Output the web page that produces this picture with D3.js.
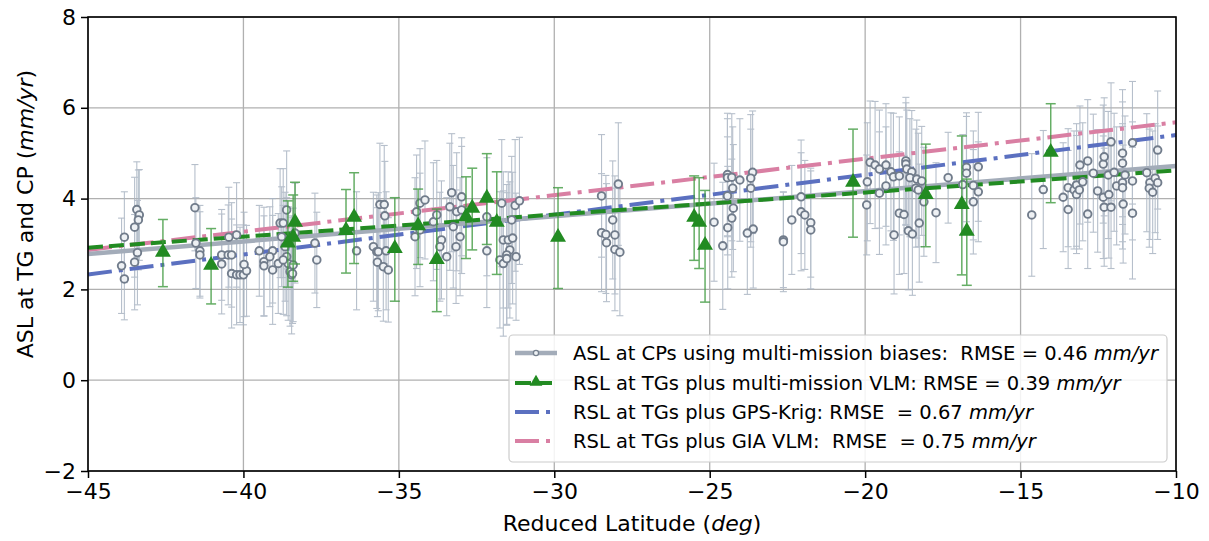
<!DOCTYPE html>
<html>
<head>
<meta charset="utf-8">
<script src="https://cdn.jsdelivr.net/npm/d3@7"></script>
<style>
  body { margin: 0; background: #fff; }
  text { font-family: "DejaVu Sans", sans-serif; fill: #000; white-space: pre; }
</style>
</head>
<body>
<svg width="1209" height="541"></svg>
<script>
// ASL at coastal points (grey circles)
const cpLat = [-43.92,-43.83,-43.83,-43.43,-43.35,-43.38,-43.50,-43.41,-43.50,-41.56,-41.53,-41.40,-41.40,-40.70,-40.70,-40.49,-40.38,-40.47,-40.22,-40.38,-40.22,-40.11,-40.00,-39.90,-39.98,-39.49,-39.34,-39.34,-39.06,-39.15,-39.06,-38.88,-38.82,
  -38.61,-38.72,-38.77,-38.66,-38.61,-38.56,-38.50,-38.45,-38.40,-38.34,-38.72,-38.42,-37.70,-37.64,-36.36,-35.61,-35.47,-35.45,-35.82,-35.71,-35.66,-35.69,-35.50,-35.34,-35.41,-34.48,-34.43,-34.32,-34.16,-34.32,-33.89,-33.78,-33.63,-33.68,-33.46,-33.36,-33.30,-33.25,-33.14,-33.16,
  -32.98,-32.98,-33.03,-32.17,-32.17,-31.69,-31.26,-31.12,-31.37,-31.64,-31.48,-31.34,-31.43,-31.53,-31.75,-31.64,-31.53,-31.23,-28.48,-27.94,-28.12,-28.48,-28.34,-28.32,-28.05,-28.05,-27.89,
  -24.86,-24.58,-24.43,-24.43,-24.29,-24.43,-24.26,-24.24,-24.29,-24.42,-24.03,-23.62,-23.68,-23.68,-23.60,-23.79,-22.63,-22.63,-22.36,-22.06,-22.06,-21.94,-21.75,-21.75,
  -19.95,-19.93,-19.84,-19.68,-19.54,-19.54,-19.33,-19.33,-19.17,-19.09,-19.07,-18.90,-18.90,-18.75,-18.69,-18.69,-18.66,-18.50,-18.56,-18.34,-18.18,-18.37,-18.29,-18.61,-18.48,-18.26,-18.11,-17.72,-17.33,-16.86,-16.74,-16.74,-16.52,-16.36,-16.36,-16.52,
  -14.64,-14.27,-13.63,-13.47,-13.47,-13.28,-13.20,-13.20,-13.11,-13.09,-13.00,-12.84,-12.84,-12.66,-12.52,-12.34,-12.34,-12.31,-12.31,-12.18,-12.16,-12.09,-12.09,-11.99,-11.91,-11.72,-11.72,-11.72,-11.72,-11.70,-11.64,-11.40,-11.40,-11.40,-10.94,-10.84,-10.86,-10.75,-10.67,-10.59,-10.59];
const cpAsl = [2.52,3.15,2.23,3.76,3.64,3.53,3.37,2.81,2.60,3.80,3.02,2.85,2.76,2.56,2.76,2.76,2.76,3.15,3.20,2.35,2.32,2.32,2.32,2.41,2.55,2.85,2.61,2.52,2.85,2.72,2.43,2.57,3.46,
  3.75,3.46,3.16,2.94,2.72,2.57,2.39,2.32,2.54,3.24,2.65,2.35,3.02,2.65,2.85,3.87,3.87,3.62,2.94,2.83,2.83,2.60,2.50,2.43,2.85,3.16,3.71,3.90,3.97,3.31,3.49,3.64,3.09,2.94,2.72,3.82,4.13,3.38,3.71,2.94,
  4.04,3.75,3.16,3.60,2.85,3.90,3.85,3.95,3.53,3.09,3.09,3.13,2.87,2.76,2.65,2.57,2.68,2.72,4.06,4.32,3.53,3.25,3.21,3.03,3.20,2.88,2.82,
  3.48,2.96,4.53,4.46,4.47,4.06,4.23,3.79,3.57,3.36,4.41,4.58,4.45,4.23,3.33,3.24,3.09,3.05,3.53,4.04,3.71,3.64,3.47,3.31,
  3.86,4.37,4.80,4.74,4.65,4.12,4.74,4.28,4.59,4.48,3.20,4.50,3.68,3.65,4.83,4.76,4.65,4.59,4.46,4.43,4.39,4.23,4.19,3.29,3.22,3.46,3.93,3.69,4.46,4.31,4.69,4.56,4.29,4.70,4.15,3.93,
  3.64,4.20,4.03,4.24,3.76,4.19,4.30,4.09,4.19,4.74,4.37,4.83,3.66,4.56,4.17,4.03,4.76,4.92,3.81,4.52,4.09,5.25,3.81,4.58,4.28,5.00,4.78,4.35,4.24,3.88,4.52,5.23,4.39,3.68,4.57,4.35,4.23,4.14,4.45,5.07,4.35];
const cpErr = [1.05,1.00,0.90,1.05,1.00,1.10,1.10,1.15,1.05,0.95,1.00,1.00,0.95,1.10,1.00,1.10,1.15,1.10,1.15,1.20,1.10,1.05,1.10,1.00,1.15,1.00,1.20,1.10,1.15,1.10,1.20,1.10,1.20,
  1.30,1.20,1.10,1.20,1.30,1.25,1.20,1.30,1.25,1.10,1.20,1.10,1.10,1.05,1.30,1.35,1.30,1.20,1.20,1.25,1.30,1.20,1.20,1.15,1.30,1.30,1.25,1.20,1.30,1.25,1.30,1.20,1.30,1.20,1.30,1.40,1.30,1.35,1.30,1.25,
  1.30,1.40,1.30,1.30,1.25,1.40,1.45,1.40,1.40,1.50,1.50,1.45,1.50,1.55,1.50,1.60,1.45,1.40,1.35,1.35,1.30,1.30,1.30,1.30,1.30,1.35,1.40,
  1.30,1.40,1.35,1.30,1.40,1.30,1.35,1.40,1.30,1.35,1.35,1.35,1.40,1.30,1.30,1.35,1.05,1.10,1.20,1.25,1.30,1.20,1.20,1.30,
  1.10,1.30,1.35,1.40,1.30,1.35,1.35,1.30,1.30,1.40,1.30,1.30,1.35,1.30,1.40,1.35,1.30,1.35,1.30,1.30,1.20,1.30,1.25,1.30,1.35,1.30,1.20,1.10,1.00,1.10,1.20,1.25,1.20,1.20,1.10,1.15,
  1.35,1.30,1.20,1.30,1.30,1.30,1.35,1.30,1.30,1.30,1.30,1.35,1.20,1.30,1.35,1.35,1.30,1.30,1.30,1.40,1.40,1.30,1.35,1.30,1.30,1.40,1.35,1.30,1.35,1.30,1.30,1.35,1.30,1.45,1.30,1.25,1.30,1.35,1.20,1.30,1.25];

// RSL at tide gauges plus multi-mission VLM (green triangles)
const tgLat = [-42.59,-41.04,-38.57,-38.40,-38.34,-36.70,-36.44,-35.13,-34.38,-33.78,-32.84,-32.64,-32.17,-31.85,-29.88,-25.50,-25.34,-25.15,-20.39,-18.05,-16.89,-16.73,-14.03];
const tgRsl = [2.80,2.51,3.00,3.13,3.46,3.28,3.57,2.88,3.38,2.64,3.58,3.77,3.99,3.46,3.13,3.57,3.46,2.95,4.34,4.07,3.85,3.26,5.00];
const tgErr = [0.74,0.83,0.95,0.95,0.90,0.92,1.00,1.14,0.83,1.13,0.90,0.90,1.00,1.13,1.11,0.93,1.00,1.23,1.19,1.13,1.53,1.17,1.09];

// fitted trend lines, value at lat -45 and -10
const fitLat = [-45, -10];
const fitGray  = [2.78, 4.72];
const fitGreen = [2.92, 4.62];
const fitBlue  = [2.33, 5.40];
const fitPink  = [2.87, 5.68];

const xTicks = [-45, -40, -35, -30, -25, -20, -15, -10];
const yTicks = [-2, 0, 2, 4, 6, 8];

const legendLabels = [
  ["ASL at CPs using multi-mission biases:  RMSE = 0.46 ", "mm/yr"],
  ["RSL at TGs plus multi-mission VLM: RMSE = 0.39 ", "mm/yr"],
  ["RSL at TGs plus GPS-Krig: RMSE  = 0.67 ", "mm/yr"],
  ["RSL at TGs plus GIA VLM:  RMSE  = 0.75 ", "mm/yr"]
];

const GRAY = "#a3acb9", GREEN = "#228b22", BLUE = "#5b70c0", PINK = "#d97fa3";

const svg = d3.select("svg");
const pLeft = 88, pRight = 1176, pTop = 17, pBottom = 471;

const x = d3.scaleLinear().domain([-45, -10]).range([pLeft, pRight]);
const y = d3.scaleLinear().domain([-2, 8]).range([pBottom, pTop]);

const fmt = d => d < 0 ? "\u2212" + Math.abs(d) : String(d);

// grid
svg.append("g").selectAll("line").data(xTicks).enter().append("line")
  .attr("x1", d => x(d)).attr("x2", d => x(d)).attr("y1", pTop).attr("y2", pBottom)
  .attr("stroke", "#b0b0b0").attr("stroke-width", 1.3);
svg.append("g").selectAll("line").data(yTicks).enter().append("line")
  .attr("x1", pLeft).attr("x2", pRight).attr("y1", d => y(d)).attr("y2", d => y(d))
  .attr("stroke", "#b0b0b0").attr("stroke-width", 1.3);

const plot = svg.append("g");

// grey error bars
const cpData = cpLat.map((d, i) => ({ lat: d, v: cpAsl[i], e: cpErr[i] }));
const eb = plot.append("g").attr("stroke", "#aab5c3").attr("stroke-width", 1.1).attr("opacity", 0.85);
cpData.forEach(d => {
  eb.append("line").attr("x1", x(d.lat)).attr("x2", x(d.lat)).attr("y1", y(d.v - d.e)).attr("y2", y(d.v + d.e));
  eb.append("line").attr("x1", x(d.lat) - 3.5).attr("x2", x(d.lat) + 3.5).attr("y1", y(d.v - d.e)).attr("y2", y(d.v - d.e));
  eb.append("line").attr("x1", x(d.lat) - 3.5).attr("x2", x(d.lat) + 3.5).attr("y1", y(d.v + d.e)).attr("y2", y(d.v + d.e));
});

// trend lines
const line = d3.line().x(d => x(d[0])).y(d => y(d[1]));
const fits = [
  { v: fitGray, c: GRAY, w: 4.5, dash: null },
  { v: fitGreen, c: GREEN, w: 4, dash: "15,6" },
  { v: fitBlue, c: BLUE, w: 4, dash: "24,7,4,7" },
  { v: fitPink, c: PINK, w: 4, dash: "24,7,4,7" }
];
// draw order: pink, blue, gray, green
[fits[3], fits[2], fits[0], fits[1]].forEach(f => {
  plot.append("path")
    .datum(fitLat.map((d, i) => [d, f.v[i]]))
    .attr("d", line).attr("fill", "none")
    .attr("stroke", f.c).attr("stroke-width", f.w)
    .attr("stroke-dasharray", f.dash);
});

// grey circles
plot.append("g").selectAll("circle").data(cpData).enter().append("circle")
  .attr("cx", d => x(d.lat)).attr("cy", d => y(d.v)).attr("r", 3.8)
  .attr("fill", "#eef1f4").attr("stroke", "#717c8b").attr("stroke-width", 1.9);

// green error bars + triangles
const tgData = tgLat.map((d, i) => ({ lat: d, v: tgRsl[i], e: tgErr[i] }));
const geb = plot.append("g").attr("stroke", "#3f9a3f").attr("stroke-width", 1.5).attr("opacity", 0.8);
tgData.forEach(d => {
  geb.append("line").attr("x1", x(d.lat)).attr("x2", x(d.lat)).attr("y1", y(d.v - d.e)).attr("y2", y(d.v + d.e));
  geb.append("line").attr("x1", x(d.lat) - 5).attr("x2", x(d.lat) + 5).attr("y1", y(d.v - d.e)).attr("y2", y(d.v - d.e));
  geb.append("line").attr("x1", x(d.lat) - 5).attr("x2", x(d.lat) + 5).attr("y1", y(d.v + d.e)).attr("y2", y(d.v + d.e));
});
const tri = d3.symbol().type(d3.symbolTriangle).size(110);
plot.append("g").selectAll("path").data(tgData).enter().append("path")
  .attr("d", tri).attr("transform", d => `translate(${x(d.lat)},${y(d.v) - 1})`)
  .attr("fill", GREEN);

// axes
const xAxis = svg.append("g").attr("transform", `translate(0,${pBottom})`)
  .call(d3.axisBottom(x).tickValues(xTicks).tickFormat(fmt).tickSize(7).tickPadding(5));
const yAxis = svg.append("g").attr("transform", `translate(${pLeft},0)`)
  .call(d3.axisLeft(y).tickValues(yTicks).tickFormat(fmt).tickSize(7).tickPadding(5));
[xAxis, yAxis].forEach(a => {
  a.select(".domain").remove();
  a.selectAll("line").attr("stroke", "#000").attr("stroke-width", 1.5);
  a.selectAll("text").attr("font-size", 22).attr("font-family", "DejaVu Sans").attr("fill", "#000");
});
// frame
svg.append("rect").attr("x", pLeft).attr("y", pTop).attr("width", pRight - pLeft).attr("height", pBottom - pTop)
  .attr("fill", "none").attr("stroke", "#000").attr("stroke-width", 1.6);

// axis labels
const xl = svg.append("text").attr("x", (pLeft + pRight) / 2).attr("y", 531)
  .attr("text-anchor", "middle").attr("font-size", 22);
xl.append("tspan").text("Reduced Latitude (");
xl.append("tspan").attr("font-style", "italic").text("deg");
xl.append("tspan").text(")");

const yl = svg.append("text").attr("transform", `translate(33,${(pTop + pBottom) / 2 - 30}) rotate(-90)`)
  .attr("text-anchor", "middle").attr("font-size", 22);
yl.append("tspan").text("ASL at TG and CP (");
yl.append("tspan").attr("font-style", "italic").text("mm/yr");
yl.append("tspan").text(")");

// legend
const lg = svg.append("g");
lg.append("rect").attr("x", 509).attr("y", 335).attr("width", 658).attr("height", 127)
  .attr("rx", 4).attr("fill", "#fff").attr("fill-opacity", 0.85).attr("stroke", "#cccccc").attr("stroke-width", 1.2);
const rowY = [353, 383, 412, 441];
legendLabels.forEach((lab, i) => {
  const f = fits[i], cy = rowY[i];
  lg.append("line").attr("x1", 515).attr("x2", 557).attr("y1", cy).attr("y2", cy)
    .attr("stroke", f.c).attr("stroke-width", f.w)
    .attr("stroke-dasharray", i === 1 ? "16,5" : (i > 1 ? "24,7,4,7" : null));
  if (i === 0) lg.append("circle").attr("cx", 536).attr("cy", cy).attr("r", 2.6)
    .attr("fill", "#eef1f4").attr("stroke", "#76818f").attr("stroke-width", 1.3);
  if (i === 1) lg.append("path").attr("d", d3.symbol().type(d3.symbolTriangle).size(70))
    .attr("transform", `translate(536,${cy - 1})`).attr("fill", GREEN);
  const t = lg.append("text").attr("x", 573).attr("y", cy + 7).attr("font-size", 19.5);
  t.append("tspan").text(lab[0]);
  t.append("tspan").attr("font-style", "italic").text(lab[1]);
});
</script>
</body>
</html>
